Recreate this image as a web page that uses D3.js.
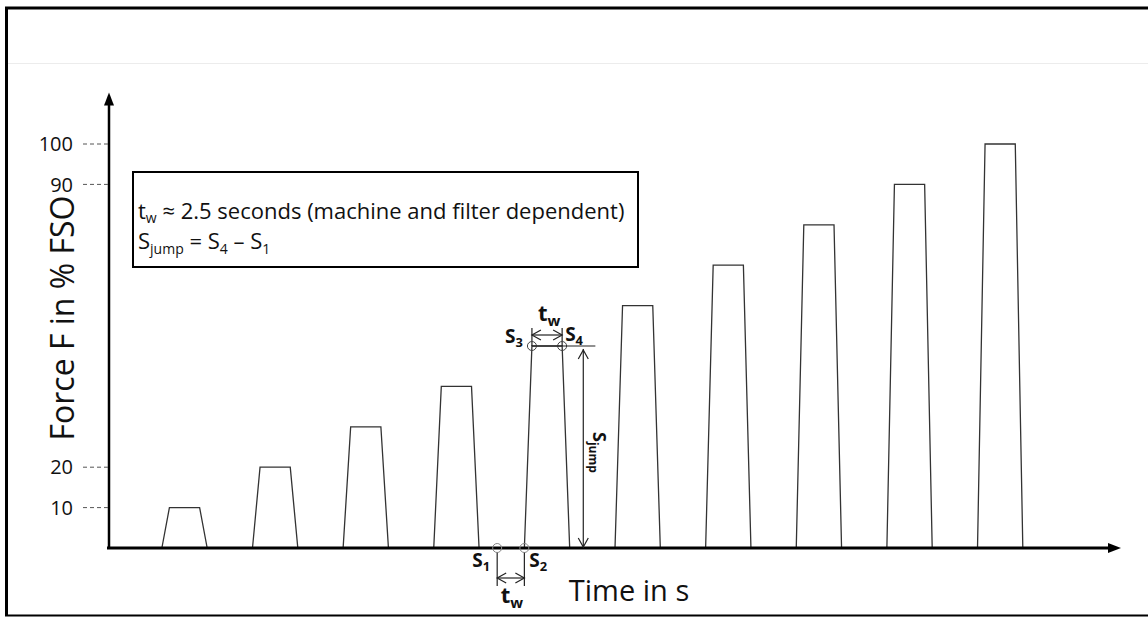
<!DOCTYPE html>
<html>
<head>
<meta charset="utf-8">
<script src="https://cdn.jsdelivr.net/npm/d3@7"></script>
<style>
  html, body { margin: 0; padding: 0; background: #fff; }
  svg { display: block; font-family: "Open Sans", sans-serif; }
</style>
</head>
<body>
<svg id="chart" width="1148" height="617"></svg>
<script>
// ---- data ----
const levels = [10, 20, 30, 40, 50, 60, 70, 80, 90, 100];      // plateau force, % FSO
const starts = [7, 19, 31, 43, 55, 67, 79, 91, 103, 115];      // start time of each step
const rampTime = 1;
const holdTime = 4;
const yTicks = [10, 20, 90, 100];
const xMax = 134;
const yMax = 112;
// annotation points (time, force)
const s1 = [51.4, 0], s2 = [55, 0], s3 = [56, 50], s4 = [60, 50];
const sJumpT = 62.8, s4LineEnd = 64.4;

const svg = d3.select("#chart");
const W = 1148, H = 617;

const x = d3.scaleLinear().domain([0, xMax]).range([109, 1121]);
const y = d3.scaleLinear().domain([0, 100]).range([548, 144]);

// frame
svg.append("line").attr("x1", 5).attr("x2", W).attr("y1", 8).attr("y2", 8)
  .attr("stroke", "#000").attr("stroke-width", 3);
svg.append("line").attr("x1", 6.5).attr("x2", 6.5).attr("y1", 7).attr("y2", 616)
  .attr("stroke", "#000").attr("stroke-width", 3);
svg.append("line").attr("x1", 5).attr("x2", W).attr("y1", 615.5).attr("y2", 615.5)
  .attr("stroke", "#000").attr("stroke-width", 2);
svg.append("line").attr("x1", 8).attr("x2", W).attr("y1", 63.5).attr("y2", 63.5)
  .attr("stroke", "#ececec").attr("stroke-width", 1);

// trapezoids
const line = d3.line().x(d => x(d[0])).y(d => y(d[1]));
const g = svg.append("g");
levels.forEach((lv, i) => {
  const t0 = starts[i];
  const pts = [[t0, 0], [t0 + rampTime, lv], [t0 + rampTime + holdTime, lv], [t0 + 2 * rampTime + holdTime, 0]];
  g.append("path").attr("d", line(pts)).attr("fill", "none")
    .attr("stroke", "#333").attr("stroke-width", 1.3);
});

// axes
const x0 = x(0), y0 = y(0);
svg.append("line").attr("x1", x0).attr("x2", x0).attr("y1", y0).attr("y2", y(yMax) + 8)
  .attr("stroke", "#000").attr("stroke-width", 2.5);
svg.append("path")
  .attr("d", `M${x0},${y(yMax) - 3} L${x0 - 5},${y(yMax) + 10} L${x0 + 5},${y(yMax) + 10} Z`)
  .attr("fill", "#000");
svg.append("line").attr("x1", x0 - 2).attr("x2", x(xMax) - 8).attr("y1", y0).attr("y2", y0)
  .attr("stroke", "#000").attr("stroke-width", 3);
svg.append("path")
  .attr("d", `M${x(xMax)},${y0} L${x(xMax) - 13},${y0 - 5} L${x(xMax) - 13},${y0 + 5} Z`)
  .attr("fill", "#000");

// y ticks
yTicks.forEach(v => {
  svg.append("line").attr("x1", 83).attr("x2", x0 - 1).attr("y1", y(v)).attr("y2", y(v))
    .attr("stroke", "#555").attr("stroke-width", 1).attr("stroke-dasharray", "4,3");
  svg.append("text").attr("x", 73).attr("y", y(v)).attr("dy", "0.36em")
    .attr("text-anchor", "end").attr("font-size", 20).attr("fill", "#111").text(v);
});

// axis titles
svg.append("text").attr("transform", `translate(74,318) rotate(-90)`)
  .attr("text-anchor", "middle").attr("font-size", 32).attr("fill", "#111")
  .text("Force F in % FSO");
svg.append("text").attr("x", 629).attr("y", 601)
  .attr("text-anchor", "middle").attr("font-size", 29).attr("fill", "#111")
  .text("Time in s");

// legend box
svg.append("rect").attr("x", 133).attr("y", 172).attr("width", 505).attr("height", 95)
  .attr("fill", "none").attr("stroke", "#000").attr("stroke-width", 2);
const l1 = svg.append("text").attr("x", 138).attr("y", 219).attr("font-size", 22).attr("fill", "#111");
l1.append("tspan").text("t");
l1.append("tspan").attr("font-size", 14).attr("dy", 4).text("w");
l1.append("tspan").attr("dy", -4).text(" ≈ 2.5 seconds (machine and filter dependent)");
const l2 = svg.append("text").attr("x", 138).attr("y", 249).attr("font-size", 22).attr("fill", "#111");
l2.append("tspan").text("S");
l2.append("tspan").attr("font-size", 14).attr("dy", 5).text("jump");
l2.append("tspan").attr("dy", -5).text(" = S");
l2.append("tspan").attr("font-size", 14).attr("dy", 5).text("4");
l2.append("tspan").attr("dy", -5).text(" – S");
l2.append("tspan").attr("font-size", 14).attr("dy", 5).text("1");

// helpers
function openArrow(px, py, dir) {
  const a = 9, b = 5;
  let d;
  if (dir === "l") d = `M${px + a},${py - b} L${px},${py} L${px + a},${py + b}`;
  if (dir === "r") d = `M${px - a},${py - b} L${px},${py} L${px - a},${py + b}`;
  if (dir === "u") d = `M${px - b},${py + a} L${px},${py} L${px + b},${py + a}`;
  if (dir === "d") d = `M${px - b},${py - a} L${px},${py} L${px + b},${py - a}`;
  svg.append("path").attr("d", d).attr("fill", "none").attr("stroke", "#222").attr("stroke-width", 1.2);
}
function labelS(tx, ty, main, sub, size) {
  const t = svg.append("text").attr("x", tx).attr("y", ty).attr("font-size", size)
    .attr("font-weight", 700).attr("fill", "#111");
  t.append("tspan").text(main);
  t.append("tspan").attr("font-size", size * 0.68).attr("dy", size * 0.22).text(sub);
  return t;
}

// S3 / S4 annotation
const xs3 = x(s3[0]), xs4 = x(s4[0]), ys34 = y(s3[1]);
[xs3, xs4].forEach(px => {
  svg.append("line").attr("x1", px).attr("x2", px).attr("y1", ys34).attr("y2", ys34 - 18)
    .attr("stroke", "#222").attr("stroke-width", 1.2);
  svg.append("circle").attr("cx", px).attr("cy", ys34).attr("r", 4.5)
    .attr("fill", "none").attr("stroke", "#444").attr("stroke-width", 1);
});
svg.append("line").attr("x1", xs3).attr("x2", x(s4LineEnd)).attr("y1", ys34).attr("y2", ys34)
  .attr("stroke", "#222").attr("stroke-width", 1.2);
svg.append("line").attr("x1", xs3).attr("x2", xs4).attr("y1", ys34 - 11).attr("y2", ys34 - 11)
  .attr("stroke", "#222").attr("stroke-width", 1.2);
openArrow(xs3, ys34 - 11, "l");
openArrow(xs4, ys34 - 11, "r");
labelS(xs3 - 27, ys34 - 3, "S", "3", 19);
labelS(xs4 + 3, ys34 - 5, "S", "4", 19);
labelS((xs3 + xs4) / 2 - 9, ys34 - 25, "t", "w", 22);

// S_jump arrow
const xj = x(sJumpT);
svg.append("line").attr("x1", xj).attr("x2", xj).attr("y1", ys34 + 3).attr("y2", y(0) - 1)
  .attr("stroke", "#222").attr("stroke-width", 1.2);
openArrow(xj, ys34 + 4, "u");
openArrow(xj, y(0) - 1, "d");
const sj = svg.append("text").attr("transform", `translate(${xj + 10},432) rotate(90)`)
  .attr("font-size", 18).attr("font-weight", 700).attr("fill", "#111");
sj.append("tspan").text("S");
sj.append("tspan").attr("font-size", 12).attr("dy", 4).text("jump");

// S1 / S2 annotation
const xs1 = x(s1[0]), xs2 = x(s2[0]), ys12 = y(0);
[xs1, xs2].forEach(px => {
  svg.append("line").attr("x1", px).attr("x2", px).attr("y1", ys12 + 4).attr("y2", ys12 + 38)
    .attr("stroke", "#222").attr("stroke-width", 1.2);
  svg.append("circle").attr("cx", px).attr("cy", ys12).attr("r", 4.5)
    .attr("fill", "none").attr("stroke", "#888").attr("stroke-width", 1);
});
svg.append("line").attr("x1", xs1).attr("x2", xs2).attr("y1", ys12 + 30).attr("y2", ys12 + 30)
  .attr("stroke", "#222").attr("stroke-width", 1.2);
openArrow(xs1, ys12 + 30, "l");
openArrow(xs2, ys12 + 30, "r");
labelS(xs1 - 25, ys12 + 19, "S", "1", 19);
labelS(xs2 + 5, ys12 + 19, "S", "2", 19);
labelS((xs1 + xs2) / 2 - 10, ys12 + 55, "t", "w", 22);
</script>
</body>
</html>
